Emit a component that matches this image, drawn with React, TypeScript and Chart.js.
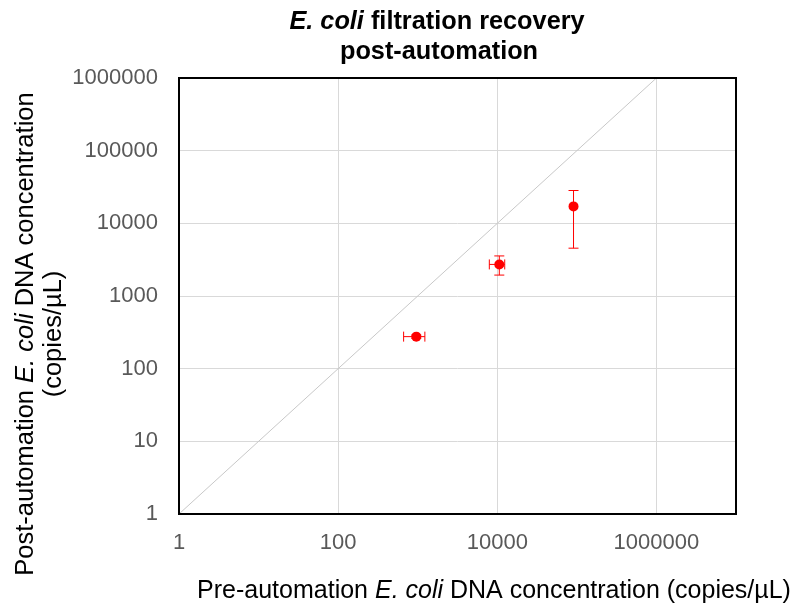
import React, { useEffect, useRef } from "react";
import { Chart, registerables } from "chart.js";

Chart.register(...registerables);

// ---- data ----
const preConc = [960, 10600, 90800];
const postConc = [276, 2720, 17100];
const preLow = [665, 7940, 90800];
const preHigh = [1230, 12400, 90800];
const postLow = [262, 1940, 4550];
const postHigh = [290, 3560, 28300];
const xTicks = [1, 100, 10000, 1000000];
const yTicks = [1, 10, 100, 1000, 10000, 100000, 1000000];
const xRange = [1, 10000000];
const yRange = [1, 1000000];
const refLine = [1, 1000000];

type Seg = { t: string; i?: boolean };
const titleLines: Seg[][] = [
  [{ t: "E. coli", i: true }, { t: " filtration recovery" }],
  [{ t: "post-automation" }],
];
const xTitle: Seg[] = [
  { t: "Pre-automation " },
  { t: "E. coli", i: true },
  { t: " DNA concentration (copies/\u00b5L)" },
];
const yTitleLines: Seg[][] = [
  [{ t: "Post-automation " }, { t: "E. coli", i: true }, { t: " DNA concentration" }],
  [{ t: "(copies/\u00b5L)" }],
];

const FONT = "'Liberation Sans', Arial, sans-serif";

function drawRich(
  ctx: CanvasRenderingContext2D,
  segs: Seg[],
  cx: number,
  cy: number,
  size: number,
  bold: boolean,
  color: string
) {
  const fontOf = (s: Seg) =>
    `${s.i ? "italic " : ""}${bold ? "bold " : ""}${size}px ${FONT}`;
  let total = 0;
  const widths = segs.map((s) => {
    ctx.font = fontOf(s);
    const w = ctx.measureText(s.t).width;
    total += w;
    return w;
  });
  let x = cx - total / 2;
  ctx.fillStyle = color;
  ctx.textBaseline = "middle";
  ctx.textAlign = "left";
  segs.forEach((s, k) => {
    ctx.font = fontOf(s);
    ctx.fillText(s.t, x, cy);
    x += widths[k];
  });
}

const decorPlugin = {
  id: "decor",
  beforeDatasetsDraw(chart: any) {
    const ctx = chart.ctx as CanvasRenderingContext2D;
    const xs = chart.scales.x;
    const ys = chart.scales.y;
    ctx.save();
    ctx.strokeStyle = "#ff0000";
    ctx.lineWidth = 1;
    const cap = 5;
    for (let k = 0; k < preConc.length; k++) {
      const px = xs.getPixelForValue(preConc[k]);
      const py = ys.getPixelForValue(postConc[k]);
      const yl = ys.getPixelForValue(postLow[k]);
      const yh = ys.getPixelForValue(postHigh[k]);
      const xl = xs.getPixelForValue(preLow[k]);
      const xh = xs.getPixelForValue(preHigh[k]);
      ctx.beginPath();
      ctx.moveTo(px, yl);
      ctx.lineTo(px, yh);
      ctx.moveTo(px - cap, yl);
      ctx.lineTo(px + cap, yl);
      ctx.moveTo(px - cap, yh);
      ctx.lineTo(px + cap, yh);
      if (preHigh[k] !== preLow[k]) {
        ctx.moveTo(xl, py);
        ctx.lineTo(xh, py);
        ctx.moveTo(xl, py - cap);
        ctx.lineTo(xl, py + cap);
        ctx.moveTo(xh, py - cap);
        ctx.lineTo(xh, py + cap);
      }
      ctx.stroke();
    }
    ctx.restore();
  },
  afterDraw(chart: any) {
    const ctx = chart.ctx as CanvasRenderingContext2D;
    const a = chart.chartArea;
    ctx.save();
    // frame
    ctx.strokeStyle = "#000000";
    ctx.lineWidth = 2;
    ctx.strokeRect(a.left, a.top, a.right - a.left, a.bottom - a.top);
    // title
    drawRich(ctx, titleLines[0], 437, 22, 25.3, true, "#000000");
    drawRich(ctx, titleLines[1], 439, 52, 25.3, true, "#000000");
    // x title
    drawRich(ctx, xTitle, 494, 591, 25, false, "#000000");
    // y title
    const cy = 334;
    ctx.save();
    ctx.translate(26, cy);
    ctx.rotate(-Math.PI / 2);
    drawRich(ctx, yTitleLines[0], 0, 0, 25.5, false, "#000000");
    ctx.restore();
    ctx.save();
    ctx.translate(54, cy);
    ctx.rotate(-Math.PI / 2);
    drawRich(ctx, yTitleLines[1], 0, 0, 25.5, false, "#000000");
    ctx.restore();
    ctx.restore();
  },
};

export default function App() {
  const ref = useRef<HTMLCanvasElement | null>(null);
  useEffect(() => {
    if (!ref.current) return;
    const chart = new Chart(ref.current, {
      type: "scatter",
      data: {
        datasets: [
          {
            type: "line",
            data: refLine.map((v) => ({ x: v, y: v })),
            borderColor: "#c8c8c8",
            borderWidth: 1,
            pointRadius: 0,
            fill: false,
          } as any,
          {
            type: "scatter",
            data: preConc.map((v, k) => ({ x: v, y: postConc[k] })),
            backgroundColor: "#ff0000",
            borderColor: "#ff0000",
            pointRadius: 5,
            borderWidth: 0,
          },
        ],
      },
      plugins: [decorPlugin],
      options: {
        responsive: false,
        animation: false,
        layout: { padding: { top: 78, right: 66, left: 0, bottom: 0 } },
        plugins: {
          legend: { display: false },
          tooltip: { enabled: false },
          title: { display: false },
        },
        scales: {
          x: {
            type: "logarithmic",
            min: xRange[0],
            max: xRange[1],
            afterBuildTicks: (s: any) => {
              s.ticks = xTicks.map((v) => ({ value: v }));
            },
            afterFit: (s: any) => {
              s.height = 93;
            },
            grid: { color: "#d9d9d9", lineWidth: 1, drawTicks: false },
            border: { display: false },
            ticks: {
              padding: 16,
              color: "#595959",
              font: { size: 22, family: FONT },
              maxRotation: 0,
              autoSkip: false,
              callback: (v: any) => String(v),
            },
          },
          y: {
            type: "logarithmic",
            min: yRange[0],
            max: yRange[1],
            afterBuildTicks: (s: any) => {
              s.ticks = yTicks.map((v) => ({ value: v }));
            },
            afterFit: (s: any) => {
              s.width = 179;
            },
            grid: { color: "#d9d9d9", lineWidth: 1, drawTicks: false },
            border: { display: false },
            ticks: {
              padding: 21,
              color: "#595959",
              font: { size: 22, family: FONT },
              autoSkip: false,
              callback: (v: any) => String(v),
            },
          },
        },
      } as any,
    });
    return () => chart.destroy();
  }, []);
  return (
    <div style={{ position: "absolute", left: 0, top: 0, width: 802, height: 607, background: "#fff" }}>
      <canvas ref={ref} width={802} height={607} style={{ display: "block" }} />
    </div>
  );
}
